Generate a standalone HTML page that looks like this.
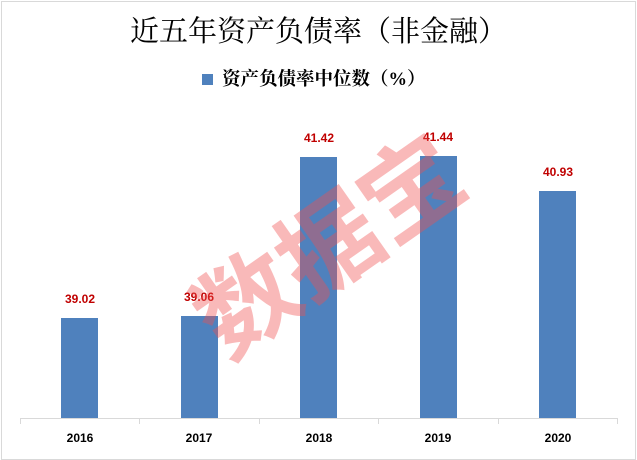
<!DOCTYPE html>
<html><head><meta charset="utf-8"><style>
body{margin:0;background:#fff;}
.c{position:relative;width:637px;height:460px;overflow:hidden;font-family:"Liberation Sans","Noto Sans CJK SC",sans-serif;}
.frame{position:absolute;left:1px;top:1px;width:633px;height:457px;border:1px solid #d9d9d9;}
.title{position:absolute;left:0;width:637px;top:12px;text-align:center;font-family:"Liberation Serif","Noto Serif CJK SC",serif;font-size:29px;color:#000;line-height:40px;}
.leg{position:absolute;left:202px;top:74px;width:11px;height:11px;background:#4f81bd;}
.legt{position:absolute;left:222px;top:68px;font-family:"Liberation Serif","Noto Serif CJK SC",serif;font-size:18.5px;font-weight:bold;line-height:24px;}
.bar{position:absolute;width:37px;background:#4f81bd;bottom:42px;}
.v{position:absolute;width:80px;text-align:center;color:#c00000;font-weight:bold;font-size:12px;}
.x{position:absolute;width:80px;text-align:center;font-weight:bold;font-size:12px;top:431px;}
.wm{position:absolute;left:175px;top:190px;font-size:100px;font-weight:bold;color:rgba(240,80,80,0.4);transform:rotate(-35deg);transform-origin:center;font-family:"Noto Sans CJK SC",sans-serif;white-space:nowrap;line-height:100px;}
</style></head><body><div class="c">
<div class="frame"></div>
<div class="title">近五年资产负债率（非金融）</div>
<div class="leg"></div><div class="legt">资产负债率中位数（%）</div>
<div style="position:absolute;left:20px;top:418px;width:598px;height:1px;background:#d9d9d9"></div>
<div style="position:absolute;left:20px;top:418px;width:1px;height:6px;background:#d9d9d9"></div>
<div style="position:absolute;left:139px;top:418px;width:1px;height:6px;background:#d9d9d9"></div>
<div style="position:absolute;left:259px;top:418px;width:1px;height:6px;background:#d9d9d9"></div>
<div style="position:absolute;left:378px;top:418px;width:1px;height:6px;background:#d9d9d9"></div>
<div style="position:absolute;left:498px;top:418px;width:1px;height:6px;background:#d9d9d9"></div>
<div style="position:absolute;left:617px;top:418px;width:1px;height:6px;background:#d9d9d9"></div>
<div class="bar" style="left:61px;top:318px"></div>
<div class="bar" style="left:181px;top:316px"></div>
<div class="bar" style="left:300px;top:157px"></div>
<div class="bar" style="left:420px;top:156px"></div>
<div class="bar" style="left:539px;top:191px"></div>
<div class="v" style="left:40px;top:292px">39.02</div>
<div class="v" style="left:159px;top:290px">39.06</div>
<div class="v" style="left:279px;top:131px">41.42</div>
<div class="v" style="left:398px;top:130px">41.44</div>
<div class="v" style="left:518px;top:165px">40.93</div>
<div class="x" style="left:40px">2016</div>
<div class="x" style="left:159px">2017</div>
<div class="x" style="left:279px">2018</div>
<div class="x" style="left:398px">2019</div>
<div class="x" style="left:518px">2020</div>
<div class="wm">数据宝</div>
</div></body></html>
